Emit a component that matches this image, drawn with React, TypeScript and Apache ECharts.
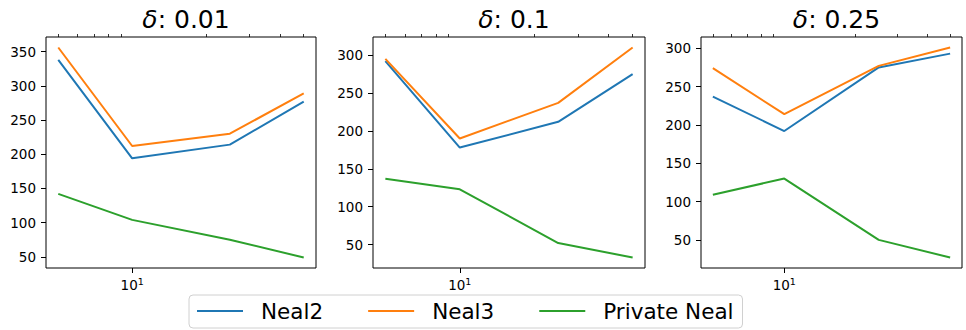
import React, { useEffect, useRef } from "react";
import * as echarts from "echarts";

const xValues = [5, 10, 25, 50];
const seriesNames = ["Neal2", "Neal3", "Private Neal"];
const colors = ["#1f77b4", "#ff7f0e", "#2ca02c"];
const titles = ["0.01", "0.1", "0.25"];

// panel δ = 0.01
const neal2A = [338, 194, 214, 277];
const neal3A = [356, 212, 230, 289];
const privA = [142, 104, 75, 49];
// panel δ = 0.1
const neal2B = [292, 178, 212, 275];
const neal3B = [295, 190, 237, 310];
const privB = [137, 123, 52, 33];
// panel δ = 0.25
const neal2C = [237, 192, 275, 293];
const neal3C = [274, 214, 277, 301];
const privC = [109, 130, 50, 27];

const yTicks = [50, 100, 150, 200, 250, 300, 350];
const majorX = [10];
const minorX = [5, 6, 7, 8, 9, 20, 30, 40, 50];

const panels = [
  [neal2A, neal3A, privA],
  [neal2B, neal3B, privB],
  [neal2C, neal3C, privC],
];

const grids = [
  { left: 46, width: 270 },
  { left: 373, width: 272 },
  { left: 701, width: 261 },
];

const FONT = "DejaVu Sans";

export default function App() {
  const ref = useRef<HTMLDivElement>(null);
  useEffect(() => {
    if (!ref.current) return;
    const chart = echarts.init(ref.current, null, { renderer: "svg" });
    const lx0 = Math.log10(xValues[0]);
    const lx1 = Math.log10(xValues[xValues.length - 1]);
    const pad = (lx1 - lx0) * 0.05;
    const xmin = Math.pow(10, lx0 - pad);
    const xmax = Math.pow(10, lx1 + pad);

    const gridOpts = grids.map((g) => ({
      left: g.left,
      width: g.width,
      top: 37,
      height: 231,
      show: true,
      borderColor: "#000",
      borderWidth: 1,
      backgroundColor: "transparent",
      outerBoundsMode: "none",
      containLabel: false,
    }));

    const xAxes: any[] = [];
    grids.forEach((_, i) => {
      xAxes.push({
        type: "log",
        logBase: 10,
        gridIndex: i,
        min: xmin,
        max: xmax,
        axisLine: { show: false },
        splitLine: { show: false },
        minorTick: { show: false },
        axisTick: { show: true, inside: false, length: 5, customValues: majorX, lineStyle: { color: "#000", width: 1 } },
        axisLabel: {
          show: true,
          customValues: majorX,
          margin: 8,
          formatter: () => "{a|10}{b|1}",
          rich: {
            a: { fontFamily: FONT, fontSize: 13.5, color: "#000" },
            b: { fontFamily: FONT, fontSize: 9.5, color: "#000", verticalAlign: "top", padding: [0, 0, 8, 0] },
          },
        },
      });
    });
    grids.forEach((_, i) => {
      xAxes.push({
        type: "log",
        logBase: 10,
        gridIndex: i,
        min: xmin,
        max: xmax,
        axisLine: { show: false },
        splitLine: { show: false },
        axisLabel: { show: false },
        axisTick: { show: true, inside: false, length: 3, customValues: minorX, lineStyle: { color: "#000", width: 0.8 } },
      });
    });

    const yAxes = grids.map((_, i) => ({
      type: "value",
      gridIndex: i,
      min: (v: any) => v.min - 0.05 * (v.max - v.min),
      max: (v: any) => v.max + 0.05 * (v.max - v.min),
      axisLine: { show: false },
      splitLine: { show: false },
      axisTick: { show: true, inside: false, length: 5, customValues: yTicks, lineStyle: { color: "#000", width: 1 } },
      axisLabel: { customValues: yTicks, margin: 10, fontFamily: FONT, fontSize: 13.5, color: "#000" },
    }));

    const series: any[] = [];
    panels.forEach((panel, i) => {
      panel.forEach((vals, k) => {
        series.push({
          type: "line",
          name: seriesNames[k],
          xAxisIndex: i,
          yAxisIndex: i,
          data: xValues.map((x, j) => [x, vals[j]]),
          symbol: "none",
          lineStyle: { color: colors[k], width: 2 },
          itemStyle: { color: colors[k] },
        });
      });
    });

    const titleOpts = grids.map((g, i) => ({
      text: "{i|δ}: " + titles[i],
      left: g.left + g.width / 2,
      textAlign: "center",
      top: 2,
      textStyle: {
        fontFamily: FONT,
        fontSize: 25,
        fontWeight: "normal",
        color: "#000",
        rich: {
          i: { fontFamily: FONT, fontSize: 25, fontStyle: "italic", color: "#000" },
        },
      },
    }));

    chart.setOption({
      animation: false,
      backgroundColor: "#fff",
      title: titleOpts,
      grid: gridOpts,
      xAxis: xAxes,
      yAxis: yAxes,
      series,
      legend: {
        data: seriesNames,
        left: 189,
        top: 295,
        orient: "horizontal",
        icon: "rect",
        itemWidth: 46,
        itemHeight: 2,
        itemGap: 45,
        padding: [5, 9, 6, 8],
        borderColor: "#d0d0d0",
        borderWidth: 1,
        borderRadius: 4,
        textStyle: { fontFamily: FONT, fontSize: 21.5, color: "#000", padding: [0, 0, 0, 13] },
      },
    });
    return () => chart.dispose();
  }, []);
  return (
    <div
      ref={ref}
      style={{ position: "fixed", left: 0, top: 0, width: 966, height: 330, background: "#fff" }}
    />
  );
}
